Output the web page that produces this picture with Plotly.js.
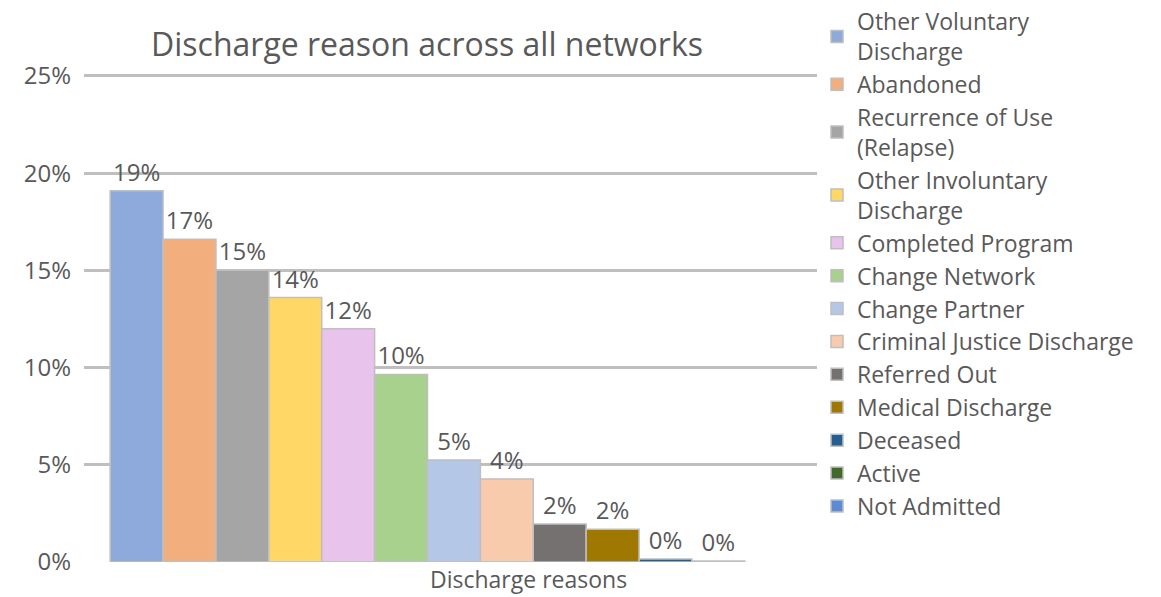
<!DOCTYPE html>
<html>
<head>
<meta charset="utf-8">
<script src="https://cdn.plot.ly/plotly-3.0.1.min.js"></script>
<style>html,body{margin:0;padding:0;background:#fff;}#chart{width:1161px;height:597px;}</style>
</head>
<body>
<div id="chart"></div>
<script>
// Data
const category = ['Discharge reasons'];
const seriesNames = [
  'Other Voluntary<br>Discharge',
  'Abandoned',
  'Recurrence of Use<br>(Relapse)',
  'Other Involuntary<br>Discharge',
  'Completed Program',
  'Change Network',
  'Change Partner',
  'Criminal Justice Discharge',
  'Referred Out',
  'Medical Discharge',
  'Deceased',
  'Active',
  'Not Admitted'
];
const seriesValues = [19.1, 16.6, 15.0, 13.6, 12.0, 9.65, 5.25, 4.27, 1.95, 1.68, 0.15, 0.05, null];
const seriesColors = ['#8EA9DB', '#F3AE7E', '#A5A5A5', '#FFD766', '#E8C3EC', '#A9D18E', '#B4C7E7',
  '#F8CBAD', '#767171', '#9E7800', '#255E91', '#43682B', '#5B8BD6'];
const yTicks = [0, 5, 10, 15, 20, 25];

const textColor = '#595959';
const font = 'Open Sans, sans-serif';

const traces = seriesNames.map((name, i) => ({
  type: 'bar',
  name: name,
  x: category,
  y: [seriesValues[i]],
  marker: {color: seriesColors[i], line: {color: '#BFBFBF', width: 1.5}},
  texttemplate: '%{y:.0f}%',
  textposition: 'outside',
  constraintext: 'none',
  cliponaxis: false,
  textfont: {family: font, size: 24, color: textColor},
  hoverinfo: 'name+y'
}));

const layout = {
  width: 1161,
  height: 597,
  margin: {l: 84, r: 340, t: 74, b: 35},
  paper_bgcolor: '#ffffff',
  plot_bgcolor: '#ffffff',
  barmode: 'group',
  bargap: 0.062,
  bargroupgap: 0,
  font: {family: font, color: textColor},
  title: {
    text: 'Discharge reason across all networks',
    font: {family: font, size: 32, color: textColor},
    xref: 'container', yref: 'container',
    x: 427 / 1161, xanchor: 'center',
    y: 1 - 45 / 597, yanchor: 'middle'
  },
  xaxis: {
    type: 'category',
    range: [-0.5047, 0.4953],
    showticklabels: false,
    showgrid: false,
    zeroline: false,
    showline: false,
    ticks: '',
    fixedrange: true
  },
  yaxis: {
    range: [0, 25.1],
    tickvals: yTicks,
    ticktext: yTicks.map(v => v + '%'),
    tickfont: {family: font, size: 24, color: textColor},
    showgrid: true,
    gridcolor: '#BFBFBF',
    gridwidth: 3,
    zeroline: false,
    showline: false,
    ticks: '',
    ticklabelstandoff: 12,
    fixedrange: true
  },
  legend: {
    xref: 'container', yref: 'container',
    x: 817 / 1161, xanchor: 'left',
    y: 1, yanchor: 'top',
    maxheight: 597,
    font: {family: font, size: 23, color: textColor},
    bgcolor: 'rgba(0,0,0,0)',
    traceorder: 'normal'
  },
  annotations: [{
    text: category[0],
    xref: 'paper', yref: 'paper',
    x: (531 - 84) / 737, y: -(579 - 562) / 488,
    xanchor: 'center', yanchor: 'middle',
    showarrow: false,
    font: {family: font, size: 23, color: textColor}
  }],
  showlegend: true
};

Plotly.newPlot('chart', traces, layout, {displayModeBar: false, staticPlot: false});
</script>
</body>
</html>
